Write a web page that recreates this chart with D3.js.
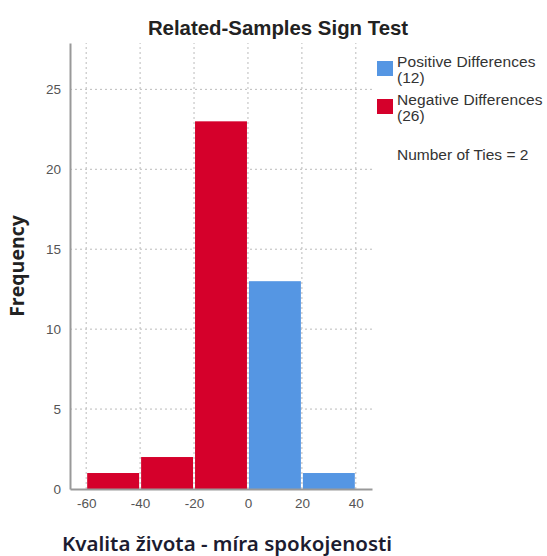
<!DOCTYPE html>
<html>
<head>
<meta charset="utf-8">
<script src="https://cdn.jsdelivr.net/npm/d3@7"></script>
<style>
  body { margin: 0; background: #fff; }
  text { font-family: "Liberation Sans", Arial, sans-serif; }
</style>
</head>
<body>
<div id="chart"></div>
<script>
// histogram of sign-test differences, bins of width 20

const binStarts = [-60, -40, -20, 0, 20];
const binCounts = [1, 2, 23, 13, 1];
const binSign = ["neg", "neg", "neg", "pos", "pos"];
const xTicks = [-60, -40, -20, 0, 20, 40];
const yTicks = [0, 5, 10, 15, 20, 25];
const legendItems = [
  { key: "pos", label: "Positive Differences", n: "(12)" },
  { key: "neg", label: "Negative Differences", n: "(26)" },
];
const tiesText = "Number of Ties = 2";

const W = 547, H = 556;
const margin = { left: 70, top: 43, right: 175, bottom: 67 };

const colors = { pos: "#5596e3", neg: "#d5002b" };

const svg = d3.select("#chart").append("svg")
  .attr("width", W).attr("height", H);

const x = d3.scaleLinear().domain([-66, 46]).range([margin.left, W - margin.right]);
const y = d3.scaleLinear().domain([0, 27.9]).range([H - margin.bottom, margin.top]);

// grid
const grid = svg.append("g").attr("stroke", "#bbb").attr("stroke-dasharray", "2,3");
grid.selectAll("line.v").data(xTicks).enter().append("line")
  .attr("x1", d => x(d)).attr("x2", d => x(d))
  .attr("y1", y(0)).attr("y2", margin.top);
grid.selectAll("line.h").data(yTicks.slice(1)).enter().append("line")
  .attr("x1", margin.left).attr("x2", W - margin.right)
  .attr("y1", d => y(d)).attr("y2", d => y(d));

// bars
svg.append("g").selectAll("rect").data(binStarts).enter().append("rect")
  .attr("x", d => x(d) + 1)
  .attr("width", d => x(d + 20) - x(d) - 2)
  .attr("y", (d, i) => y(binCounts[i]))
  .attr("height", (d, i) => y(0) - y(binCounts[i]))
  .attr("fill", (d, i) => colors[binSign[i]]);

// axes
const xAxis = svg.append("g")
  .attr("transform", `translate(0,${y(0)})`)
  .call(d3.axisBottom(x).tickValues(xTicks).tickFormat(d => String(d)).tickSize(0).tickPadding(9));
const yAxis = svg.append("g")
  .attr("transform", `translate(${margin.left},0)`)
  .call(d3.axisLeft(y).tickValues(yTicks).tickSize(0).tickPadding(9));
[xAxis, yAxis].forEach(a => {
  a.select(".domain").attr("stroke", "#999").attr("stroke-width", 2);
  a.selectAll("text").attr("fill", "#555").style("font-size", "13.5px")
    .style("font-family", "'Liberation Sans', Arial, sans-serif");
});

// titles
svg.append("text").attr("x", 278).attr("y", 35).attr("text-anchor", "middle")
  .style("font-size", "20.4px").style("font-weight", "bold").attr("fill", "#222")
  .text("Related-Samples Sign Test");

svg.append("text").attr("transform", "translate(24,266) rotate(-90)")
  .attr("text-anchor", "middle").style("font-family", "'Open Sans', sans-serif")
  .style("font-size", "19.5px").style("font-weight", "bold")
  .attr("fill", "#222").text("Frequency");

svg.append("text").attr("x", 62).attr("y", 551)
  .style("font-family", "'Noto Sans', sans-serif").style("font-size", "20.5px")
  .style("font-weight", "600").attr("fill", "#1c1c30")
  .text("Kvalita života - míra spokojenosti");

// legend
const lg = svg.append("g").attr("transform", "translate(377,61)");
const item = lg.selectAll("g").data(legendItems).enter().append("g")
  .attr("transform", (d, i) => `translate(0,${i * 38})`);
item.append("rect").attr("width", 16).attr("height", 15)
  .attr("fill", d => colors[d.key]);
item.append("text").attr("x", 20).attr("y", 6).attr("fill", "#333")
  .style("font-size", "15.5px").style("letter-spacing", "0.1px").text(d => d.label);
item.append("text").attr("x", 20).attr("y", 22).attr("fill", "#333")
  .style("font-size", "15.5px").text(d => d.n);
lg.append("text").attr("x", 20).attr("y", 99).attr("fill", "#333")
  .style("font-size", "15.5px").text(tiesText);
</script>
</body>
</html>
